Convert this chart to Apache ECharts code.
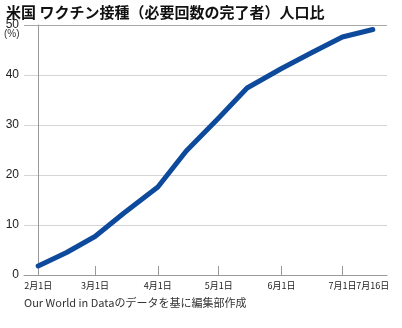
<!DOCTYPE html>
<html><head><meta charset="utf-8">
<script src="https://cdn.jsdelivr.net/npm/echarts@6/dist/echarts.min.js"></script>
<style>html,body{margin:0;padding:0;background:#fff}#c{width:402px;height:328px}</style>
</head><body><div id="c"></div>
<script>
// day index counted from Feb 1
const days = [0, 14, 28, 42, 59, 73, 89, 103, 120, 135, 150, 165];
const values = [1.8, 4.5, 7.7, 12.3, 17.6, 24.8, 31.4, 37.4, 41.3, 44.5, 47.6, 49.1];
const tickDays = [0, 28, 59, 89, 120, 150];
const labelDays = [0, 28, 59, 89, 120, 150, 165];
const labelTexts = ['2月1日', '3月1日', '4月1日', '5月1日', '6月1日', '7月1日', '7月16日'];
const yTicks = [0, 10, 20, 30, 40, 50];

const chart = echarts.init(document.getElementById('c'), null, {renderer: 'canvas'});
chart.setOption({
  animation: false,
  backgroundColor: '#fff',
  title: {
    text: '米国 ワクチン接種（必要回数の完了者）人口比',
    left: 1, top: 0,
    textStyle: {fontFamily: 'Noto Sans CJK JP', fontWeight: 'bold', fontSize: 15, color: '#111'}
  },
  graphic: [
    {type: 'text', left: 4, top: 29, style: {text: '(%)', fontFamily: 'Liberation Sans', fontSize: 10, fill: '#333'}},
    {type: 'text', left: 24, top: 297, style: {text: 'Our World in Dataのデータを基に編集部作成', fontFamily: 'Noto Sans CJK JP', fontSize: 11, fill: '#333'}}
  ],
  grid: {left: 24, right: 15, top: 25, bottom: 53, containLabel: false},
  xAxis: {
    type: 'value', min: -7, max: 172,
    axisLine: {show: true, lineStyle: {color: '#999', width: 1}},
    axisTick: {show: true, inside: true, length: 9, customValues: tickDays, lineStyle: {color: '#999'}},
    axisLabel: {
      customValues: labelDays,
      hideOverlap: false,
      formatter: v => labelTexts[labelDays.indexOf(v)],
      fontFamily: 'Noto Sans CJK JP', fontSize: 9, color: '#222', margin: 6
    },
    splitLine: {show: false}
  },
  yAxis: {
    type: 'value', min: 0, max: 50, interval: 10,
    axisLine: {show: true, lineStyle: {color: '#999'}},
    axisTick: {show: false},
    axisLabel: {fontFamily: 'Liberation Sans', fontSize: 12, color: '#222', margin: 5,
      formatter: v => yTicks.includes(v) ? String(v) : ''},
    splitLine: {show: true, lineStyle: {color: ['#d4d4d4', '#d4d4d4', '#d4d4d4', '#d4d4d4', '#d4d4d4', '#a8a8a8'], width: 1}}
  },
  series: [{
    type: 'line',
    data: days.map((d, i) => [d, values[i]]),
    showSymbol: false,
    lineStyle: {color: '#0d4a9c', width: 5, cap: 'round', join: 'round'},
    smooth: false
  }]
});
</script></body></html>
